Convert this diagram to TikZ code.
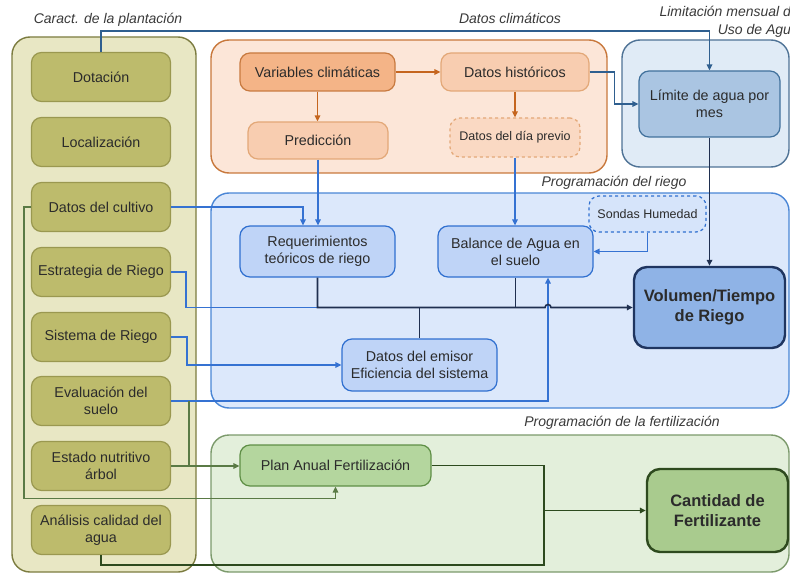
\documentclass[tikz,border=0pt]{standalone}
\usepackage{fontspec}
\setmainfont{Liberation Sans}
\usetikzlibrary{arrows.meta}
\definecolor{olPanF}{HTML}{E8E7C4}
\definecolor{olPanB}{HTML}{7C7C40}
\definecolor{olBoxF}{HTML}{BDBB6C}
\definecolor{olBoxB}{HTML}{9A9850}
\definecolor{orPanF}{HTML}{FCE6D8}
\definecolor{orPanB}{HTML}{C8783C}
\definecolor{orDarkF}{HTML}{F4B487}
\definecolor{orDarkB}{HTML}{C87A40}
\definecolor{orLightF}{HTML}{F8CDB0}
\definecolor{orLightB}{HTML}{E3A878}
\definecolor{orPrevF}{HTML}{FAD9C3}
\definecolor{orLine}{HTML}{C5651E}
\definecolor{lmPanF}{HTML}{E0EBF6}
\definecolor{lmPanB}{HTML}{4F7396}
\definecolor{lmBoxF}{HTML}{AAC5E2}
\definecolor{lmBoxB}{HTML}{41719C}
\definecolor{rgPanF}{HTML}{DCE8FB}
\definecolor{rgPanB}{HTML}{4A86D6}
\definecolor{rgBoxF}{HTML}{BFD4F7}
\definecolor{rgBoxB}{HTML}{3070D0}
\definecolor{rgSonF}{HTML}{D6E4FA}
\definecolor{volF}{HTML}{8FB3E6}
\definecolor{volB}{HTML}{1F3560}
\definecolor{ftPanF}{HTML}{E3EFDB}
\definecolor{ftPanB}{HTML}{7C9A6C}
\definecolor{planF}{HTML}{B4D69E}
\definecolor{planB}{HTML}{5F8F46}
\definecolor{cantF}{HTML}{A9CB8E}
\definecolor{cantB}{HTML}{2E4A1E}
\definecolor{stLine}{HTML}{2F5F8F}
\definecolor{blLine}{HTML}{3572D2}
\definecolor{nvLine}{HTML}{1F2F50}
\definecolor{gnLine}{HTML}{5A7A45}
\definecolor{dgLine}{HTML}{2D4A1E}
\definecolor{txt}{HTML}{2B2B2B}
\definecolor{ttl}{HTML}{3A3A3A}
\newcommand\fsA{\fontsize{14.3}{17}\selectfont}
\newcommand\fsB{\fontsize{12.5}{15}\selectfont}
\newcommand\fsC{\fontsize{16.5}{20}\selectfont\bfseries}
\newcommand\fsT{\fontsize{14}{18}\selectfont\itshape}
\tikzset{
  panel/.style={rounded corners=18pt, line width=1.4pt},
  box/.style={rounded corners=10pt, line width=1.2pt, align=center, inner sep=2pt, text=txt, font=\fsA},
  olbox/.style={box, draw=olBoxB, fill=olBoxF, minimum width=139pt, minimum height=49pt},
  ttlnode/.style={font=\fsT, text=ttl, inner sep=0pt},
  con/.style={line width=1.6pt},
  tip/.style={-{Triangle[length=6pt,width=5.5pt]}},
}
\begin{document}
\begin{tikzpicture}[x=1pt,y=-1pt]
\useasboundingbox (0,0) rectangle (790,575);
\clip (0,0) rectangle (790,575);
\fill[white] (0,0) rectangle (790,575);
% panels
\draw[panel, draw=olPanB, fill=olPanF] (12,37) rectangle (196,572);
\draw[panel, draw=orPanB, fill=orPanF] (211,40) rectangle (607,173);
\draw[panel, draw=lmPanB, fill=lmPanF] (622,40) rectangle (789,167);
\draw[panel, draw=rgPanB, fill=rgPanF] (211,193) rectangle (789,408);
\draw[panel, draw=ftPanB, fill=ftPanF] (211,435) rectangle (789,572);
% titles
\node[ttlnode] (t1) at (108,20) {Caract. de la plantación};
\node[ttlnode] (t2) at (510,18) {Datos climáticos};
\node[ttlnode, anchor=north east, align=right] (t3) at (799,6) {Limitación mensual de\\Uso de Agua};
\node[ttlnode] (t4) at (614,183) {Programación del riego};
\node[ttlnode] (t5) at (622,423) {Programación de la fertilización};
% left boxes
\node[olbox] (dot) at (101,77) {Dotación};
\node[olbox] (loc) at (101,142) {Localización};
\node[olbox] (cult) at (101,207) {Datos del cultivo};
\node[olbox] (estr) at (101,272) {Estrategia de Riego};
\node[olbox] (sist) at (101,337) {Sistema de Riego};
\node[olbox] (eval) at (101,401) {Evaluación del\\suelo};
\node[olbox] (estn) at (101,466) {Estado nutritivo\\árbol};
\node[olbox] (anal) at (101,530) {Análisis calidad del\\agua};
% climate boxes
\node[box, draw=orDarkB, fill=orDarkF, minimum width=155pt, minimum height=38pt] (var) at (317.5,72) {Variables climáticas};
\node[box, draw=orLightB, fill=orLightF, minimum width=148pt, minimum height=38pt] (hist) at (515,72) {Datos históricos};
\node[box, draw=orLightB, fill=orLightF, minimum width=140pt, minimum height=37pt] (pred) at (318,140.5) {Predicción};
\node[box, draw=orLightB, fill=orPrevF, dashed, minimum width=130pt, minimum height=39pt, font=\fsB] (prev) at (515,137.5) {Datos del día previo};
% limit box
\node[box, draw=lmBoxB, fill=lmBoxF, minimum width=141pt, minimum height=66pt] (lim) at (709.5,104) {Límite de agua por\\mes};
% irrigation boxes
\node[box, draw=rgBoxB, fill=rgBoxF, minimum width=155pt, minimum height=51pt] (req) at (317.5,251.5) {Requerimientos\\teóricos de riego};
\node[box, draw=rgBoxB, fill=rgBoxF, minimum width=155pt, minimum height=51pt] (bal) at (515.5,251.5) {Balance de Agua en\\el suelo};
\node[box, draw=rgBoxB, fill=rgSonF, dashed, minimum width=117pt, minimum height=36pt, font=\fsB] (son) at (647.5,214) {Sondas Humedad};
\node[box, draw=volB, fill=volF, line width=2.4pt, rounded corners=13pt, minimum width=151pt, minimum height=81pt, font=\fsC] (vol) at (709.5,307.5) {Volumen/Tiempo\\de Riego};
\node[box, draw=rgBoxB, fill=rgBoxF, minimum width=155pt, minimum height=52pt] (emi) at (419.5,365) {Datos del emisor\\Eficiencia del sistema};
% fertilization boxes
\node[box, draw=planB, fill=planF, minimum width=191pt, minimum height=41pt] (plan) at (335.5,465.5) {Plan Anual Fertilización};
\node[box, draw=cantB, fill=cantF, line width=2.4pt, rounded corners=13pt, minimum width=141pt, minimum height=83pt, font=\fsC] (cant) at (717.5,510.5) {Cantidad de\\Fertilizante};
% climate connectors
\draw[con, tip, orLine] (var.east) -- (hist.west);
\draw[con, tip, orLine] (var.south) -- (var.south |- pred.north);
\draw[con, tip, orLine] (hist.south) -- (hist.south |- prev.north);
% steel blue connectors
\draw[con, tip, stLine] (dot.north) -- (dot.north |- 0,31) -| (lim.north);
\draw[con, tip, stLine] (hist.east) -- ++(25,0) |- (lim.west);
\draw[con, tip, nvLine] (lim.south) -- (vol.north);
% blue connectors
\draw[con, tip, blLine] (pred.south) -- (pred.south |- req.north);
\draw[con, tip, blLine] (prev.south) -- (prev.south |- bal.north);
\draw[con, tip, blLine] (cult.east) -| ([xshift=-14.5pt]req.north);
\draw[con, tip, blLine] (son.south) |- (bal.east);
\coordinate (hub) at (req.south |- vol.west);
\draw[con, blLine] (estr.east) -- ++(15,0) |- (hub);
\draw[con, tip, blLine] (sist.east) -- ++(16,0) |- (emi.west);
\draw[con, tip, blLine] (eval.east) -| ([xshift=32.5pt]bal.south);
% main navy line
\draw[con, nvLine] (bal.south) -- (bal.south |- vol.west);
\draw[con, nvLine] (emi.north) -- (emi.north |- vol.west);
\draw[con, tip, nvLine] (req.south) -- (hub) -- ([xshift=29.5pt]bal.south |- vol.west) arc (180:360:3) -- (vol.west);
% green connectors
\draw[con, gnLine] ([xshift=18pt]eval.east) -- ([xshift=18pt]eval.east |- estn.east);
\draw[con, tip, gnLine] (estn.east) -- (estn.east -| plan.west);
\draw[con, tip, gnLine] (cult.west) -- ++(-7,0) |- ([yshift=-12pt]plan.south) -- (plan.south);
\coordinate (fj) at ([xshift=-102pt]cant.west);
\draw[con, dgLine] (plan.east) -| (fj);
\draw[con, dgLine] (anal.south) -- ++(0,10) -| (fj);
\draw[con, tip, dgLine] (fj) -- (cant.west);
\end{tikzpicture}
\end{document}
